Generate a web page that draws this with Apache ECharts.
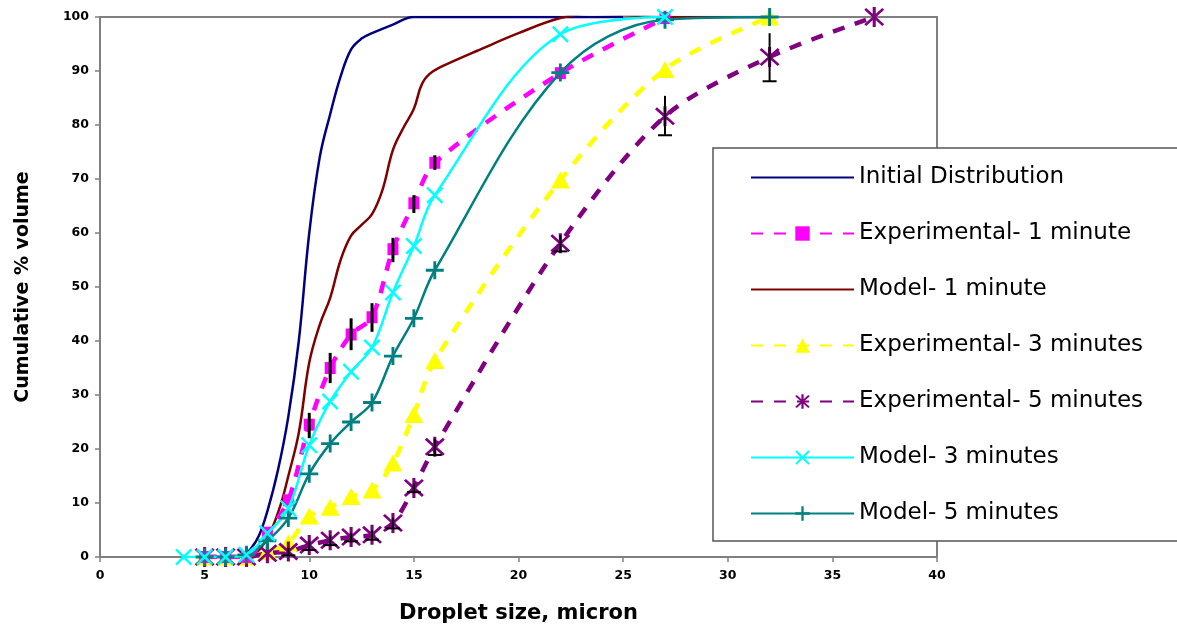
<!DOCTYPE html>
<html>
<head>
<meta charset="utf-8">
<script src="https://cdn.jsdelivr.net/npm/echarts@6/dist/echarts.min.js"></script>
<style>
html,body{margin:0;padding:0;background:#fff;}
#chart{width:1177px;height:625px;}
</style>
</head>
<body>
<div id="chart"></div>
<script>
// ---- data ----
const xTicks = [0, 5, 10, 15, 20, 25, 30, 35, 40];

const initX = [6.8, 7.2, 7.6, 8, 8.5, 9, 9.5, 10, 10.5, 11, 11.5, 12, 12.5, 13, 14, 15, 20, 25];
const initY = [0, 1.5, 4, 8.5, 16, 26, 40, 60, 74, 82, 89, 94, 96, 97, 98.6, 100, 100, 100];

const exp1X = [5, 6, 7, 8, 9, 10, 11, 12, 13, 14, 15, 16, 22, 27];
const exp1Y = [0, 0, 0, 4.5, 10.5, 24.5, 35, 41.2, 44.4, 57, 65.5, 73, 89.6, 99.8];

const mod1X = [7.3, 8, 8.6, 9, 9.5, 10, 10.5, 11, 11.5, 12, 12.5, 13, 13.5, 14, 14.5, 15, 15.4, 15.9, 17, 18, 20, 22, 23.5, 25, 27, 32];
const mod1Y = [0, 3.5, 9.3, 15, 23, 36, 43, 48, 55, 59.5, 61.5, 63.5, 68, 75.4, 79.5, 83, 87.7, 89.9, 92, 93.7, 97, 99.8, 100.6, 100.4, 100, 100];

const exp3X = [5, 6, 7, 8, 9, 10, 11, 12, 13, 14, 15, 16, 22, 27, 32];
const exp3Y = [0, 0, 0, 1, 2.6, 7.6, 9.2, 11.2, 12.4, 17.4, 26.4, 36.4, 69.8, 90.3, 100];

const exp5X = [5, 6, 7, 8, 9, 10, 11, 12, 13, 14, 15, 16, 22, 27, 32, 37];
const exp5Y = [0, 0, 0, 0.7, 1, 2.2, 3.1, 3.7, 4.1, 6.3, 12.8, 20.4, 58.1, 81.6, 92.6, 100];

const mod3X = [4, 5, 6, 7, 8, 9, 10, 11, 12, 13, 14, 15, 16, 22, 27];
const mod3Y = [0, 0, 0, 0.4, 4.4, 9, 20.7, 28.8, 34.3, 38.8, 49, 57.6, 67, 96.8, 100];

const mod5X = [5, 6, 7, 8, 9, 10, 11, 12, 13, 14, 15, 16, 22, 27, 32];
const mod5Y = [0, 0, 0.4, 3, 7.2, 15.4, 21, 25, 28.6, 37.2, 44.2, 53.1, 89.7, 99.5, 100];

// error bars (low, high)
const err1X = [10, 11, 12, 13, 14, 15, 16];
const err1Lo = [22, 32.2, 38.3, 41.7, 54.6, 63.7, 71.7];
const err1Hi = [26.7, 37.8, 44.2, 47, 59.1, 67, 74.4];

const err5X = [9, 10, 11, 12, 13, 14, 15, 16, 22, 27, 32];
const err5Lo = [0.3, 1.3, 2.2, 2.9, 3.2, 5.3, 12, 18.9, 56.6, 78.1, 88.1];
const err5Hi = [1.7, 3.1, 4, 4.5, 5, 7.3, 13.6, 21.9, 59.6, 85.4, 97];

const names = ['Initial Distribution', 'Experimental- 1 minute', 'Model- 1 minute',
  'Experimental- 3 minutes', 'Experimental- 5 minutes', 'Model- 3 minutes', 'Model- 5 minutes'];

// ---- helpers ----
const pairs = (xs, ys) => xs.map((x, i) => [x, ys[i]]);
const PLUS = 'path://M-1.6,-10 L1.6,-10 L1.6,10 L-1.6,10 Z M-10,-1.6 L10,-1.6 L10,1.6 L-10,1.6 Z';
const CROSS = 'path://M-10,-8 L-8,-10 L10,8 L8,10 Z M8,-10 L10,-8 L-8,10 L-10,8 Z';
const STAR = 'path://M-1.4,-10 L1.4,-10 L1.4,10 L-1.4,10 Z M-9,-7.2 L-7.2,-9 L9,7.2 L7.2,9 Z M7.2,-9 L9,-7.2 L-7.2,9 L-9,7.2 Z';

const FONT = 'DejaVu Sans';

const chart = echarts.init(document.getElementById('chart'), null, {renderer: 'canvas'});

function errRender(withCap, lw) {
  return function (params, api) {
    const x = api.value(0);
    const p1 = api.coord([x, api.value(1)]);
    const p2 = api.coord([x, api.value(2)]);
    const children = [{
      type: 'line',
      shape: {x1: p1[0], y1: p1[1], x2: p2[0], y2: p2[1]},
      style: {stroke: '#000', lineWidth: lw}
    }];
    if (withCap) {
      children.push({
        type: 'line',
        shape: {x1: p1[0] - 7, y1: p1[1], x2: p1[0] + 7, y2: p1[1]},
        style: {stroke: '#000', lineWidth: 2}
      });
    }
    return {type: 'group', children: children};
  };
}

const dashed = (color) => ({color: color, width: 4.5, type: [12, 11]});

const legendData = names.map((n, i) => (i === 0 || i === 2)
  ? {name: n, itemStyle: {opacity: 0}}
  : {name: n});

const option = {
  animation: false,
  backgroundColor: '#fff',
  grid: {
    left: 100, right: 240, top: 17, bottom: 68,
    outerBoundsMode: 'none', containLabel: false,
    show: true, borderColor: '#808080', borderWidth: 2, backgroundColor: 'transparent'
  },
  xAxis: {
    type: 'value', min: 0, max: 40, interval: 5,
    name: 'Droplet size, micron', nameLocation: 'middle', nameGap: 46,
    nameTextStyle: {fontFamily: FONT, fontWeight: 'bold', fontSize: 21, color: '#000'},
    axisLine: {show: true, onZero: false, lineStyle: {color: '#808080', width: 2}},
    axisTick: {show: true, length: 5, lineStyle: {color: '#808080', width: 1.5}},
    axisLabel: {fontFamily: FONT, fontWeight: 'bold', fontSize: 12.5, color: '#000', margin: 12,
      formatter: (v) => xTicks.includes(v) ? String(v) : ''},
    splitLine: {show: false}
  },
  yAxis: {
    type: 'value', min: 0, max: 100, interval: 10,
    name: 'Cumulative % volume', nameLocation: 'middle', nameGap: 67,
    nameTextStyle: {fontFamily: FONT, fontWeight: 'bold', fontSize: 19, color: '#000'},
    axisLine: {show: true, lineStyle: {color: '#808080', width: 2}},
    axisTick: {show: true, length: 5, lineStyle: {color: '#808080', width: 1.5}},
    axisLabel: {fontFamily: FONT, fontWeight: 'bold', fontSize: 12.5, color: '#000', margin: 11},
    splitLine: {show: false}
  },
  legend: {
    orient: 'vertical', left: 713, top: 148,
    data: legendData,
    itemWidth: 103, itemHeight: 18, itemGap: 33,
    padding: [18, 300, 16, 37],
    backgroundColor: '#fff', borderColor: '#555', borderWidth: 1.5, borderRadius: 0,
    textStyle: {fontFamily: FONT, fontSize: 23, color: '#000', padding: [0, 0, 0, 0]},
    selectedMode: false
  },
  series: [
    {
      name: names[0], type: 'line', data: pairs(initX, initY), smooth: 0.4,
      showSymbol: false, symbol: 'none',
      lineStyle: {color: '#000080', width: 2.5}, itemStyle: {color: '#000080'}, z: 3
    },
    {
      name: names[2], type: 'line', data: pairs(mod1X, mod1Y), smooth: 0.4,
      showSymbol: false, symbol: 'none',
      lineStyle: {color: '#800000', width: 2.5}, itemStyle: {color: '#800000'}, z: 3
    },
    {
      name: names[3], type: 'line', data: pairs(exp3X, exp3Y), smooth: 0.3,
      symbol: 'triangle', symbolSize: [19, 17],
      lineStyle: dashed('#FFFF00'), itemStyle: {color: '#FFFF00'}, z: 4
    },
    {
      name: names[4], type: 'line', data: pairs(exp5X, exp5Y), smooth: 0.3,
      symbol: STAR, symbolSize: 20,
      lineStyle: dashed('#800080'), itemStyle: {color: '#800080'}, z: 4
    },
    {
      name: names[1], type: 'line', data: pairs(exp1X, exp1Y), smooth: 0.3,
      symbol: 'rect', symbolSize: [11, 12],
      lineStyle: dashed('#FF00FF'), itemStyle: {color: '#FF00FF'}, z: 5
    },
    {
      name: names[6], type: 'line', data: pairs(mod5X, mod5Y), smooth: 0.35,
      symbol: PLUS, symbolSize: 18,
      lineStyle: {color: '#008080', width: 2.5}, itemStyle: {color: '#008080'}, z: 6
    },
    {
      name: names[5], type: 'line', data: pairs(mod3X, mod3Y), smooth: 0.35,
      symbol: CROSS, symbolSize: 17,
      lineStyle: {color: '#00FFFF', width: 2.5}, itemStyle: {color: '#00FFFF'}, z: 6
    },
    {
      name: 'err1', type: 'custom', z: 7,
      data: err1X.map((x, i) => [x, err1Lo[i], err1Hi[i]]),
      renderItem: errRender(false, 3)
    },
    {
      name: 'err5', type: 'custom', z: 7,
      data: err5X.map((x, i) => [x, err5Lo[i], err5Hi[i]]),
      renderItem: errRender(true, 2)
    }
  ]
};
chart.setOption(option);
</script>
</body>
</html>
